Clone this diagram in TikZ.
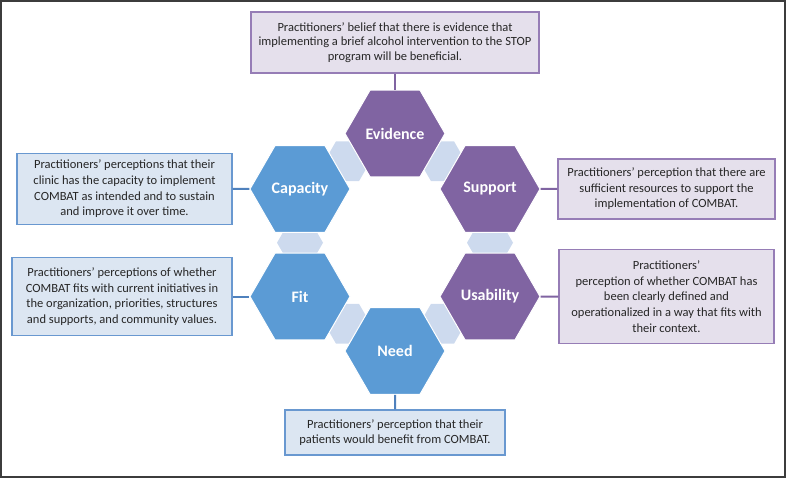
\documentclass[tikz,border=0pt]{standalone}
\usepackage{fontspec}
\setmainfont{Carlito}
\usepackage{tikz}
\usetikzlibrary{positioning,shapes.geometric,backgrounds,calc}

\definecolor{hexpurple}{RGB}{128,100,162}
\definecolor{hexblue}{RGB}{91,155,213}
\definecolor{linkfill}{RGB}{205,218,238}
\definecolor{boxpurplefill}{RGB}{229,224,236}
\definecolor{boxpurpleline}{RGB}{150,125,182}
\definecolor{boxbluefill}{RGB}{220,230,242}
\definecolor{boxblueline}{RGB}{105,152,208}
\definecolor{tiepurple}{RGB}{128,100,162}
\definecolor{tieblue}{RGB}{79,129,189}
\definecolor{framegray}{RGB}{60,60,60}

\begin{document}
\begin{tikzpicture}[x=1pt,y=-1pt,
    hex/.style={regular polygon,regular polygon sides=6,minimum size=100pt,inner sep=0pt,
                draw=white,line width=1pt,text=white,font=\fontsize{16}{18}\selectfont\bfseries},
    hexp/.style={hex,fill=hexpurple},
    hexb/.style={hex,fill=hexblue},
    link/.style={regular polygon,regular polygon sides=6,minimum size=46pt,inner sep=0pt,fill=linkfill},
    textbox/.style={rectangle,line width=1.2pt,align=center,inner sep=2pt,text=black!85,
                    font=\fontsize{12.5}{15.6}\selectfont},
    boxp/.style={textbox,fill=boxpurplefill,draw=boxpurpleline},
    boxb/.style={textbox,fill=boxbluefill,draw=boxblueline},
    tie/.style={line width=2pt}]

    \useasboundingbox (0,0) rectangle (786,478);
    \draw[framegray,line width=1.5pt] (1,1) rectangle (785,477);

    % hexagons
    \node[hexp] (evidence)  at (395,133.5) {Evidence};
    \node[hexb] (capacity)  at (300,189)   {Capacity};
    \node[hexp] (support)   at (490,189)   {Support};
    \node[hexb] (fit)       at (300,296.5) {Fit};
    \node[hexp] (usability) at (490,296.5) {Usability};
    \node[hexb] (need)      at (395,351)   {Need};

    % links between the hexagons
    \begin{scope}[on background layer]
        \node[link] (evcap)  at ($(evidence)!0.5!(capacity)$) {};
        \node[link] (evsup)  at ($(evidence)!0.5!(support)$) {};
        \node[link] (capfit) at ($(capacity)!0.5!(fit)$) {};
        \node[link] (supuse) at ($(support)!0.5!(usability)$) {};
        \node[link] (fitneed) at ($(fit)!0.5!(need)$) {};
        \node[link] (useneed) at ($(usability)!0.5!(need)$) {};
    \end{scope}

    % descriptions
    \node[boxp,minimum width=288pt,minimum height=61pt,font=\fontsize{12.5}{14.5}\selectfont] (evidencebox) at (395,42.5)
        {Practitioners’ belief that there is evidence that\\implementing a brief alcohol intervention to the STOP\\program will be beneficial.};
    \node[boxb,minimum width=215pt,minimum height=71pt] (capacitybox) at (124.5,189)
        {Practitioners’ perceptions that their\\clinic has the capacity to implement\\COMBAT as intended and to sustain\\and improve it over time.};
    \node[boxb,minimum width=220pt,minimum height=78pt] (fitbox) at (122,296.5)
        {Practitioners’ perceptions of whether\\COMBAT fits with current initiatives in\\the organization, priorities, structures\\and supports, and community values.};
    \node[boxp,minimum width=217pt,minimum height=60pt] (supportbox) at (666.5,189)
        {Practitioners’ perception that there are\\sufficient resources to support the\\implementation of COMBAT.};
    \node[boxp,minimum width=215pt,minimum height=94pt] (usabilitybox) at (666.5,296.5)
        {Practitioners’\\perception of whether COMBAT has\\been clearly defined and\\operationalized in a way that fits with\\their context.};
    \node[boxb,minimum width=220pt,minimum height=45pt] (needbox) at (395,432.5)
        {Practitioners’ perception that their\\patients would benefit from COMBAT.};

    % ties
    \draw[tie,tiepurple] (evidencebox) -- (evidence);
    \draw[tie,tieblue] (capacitybox) -- (capacity);
    \draw[tie,tieblue] (fitbox) -- (fit);
    \draw[tie,tiepurple] (supportbox) -- (support);
    \draw[tie,tiepurple] (usabilitybox) -- (usability);
    \draw[tie,tieblue] (needbox) -- (need);
\end{tikzpicture}
\end{document}
